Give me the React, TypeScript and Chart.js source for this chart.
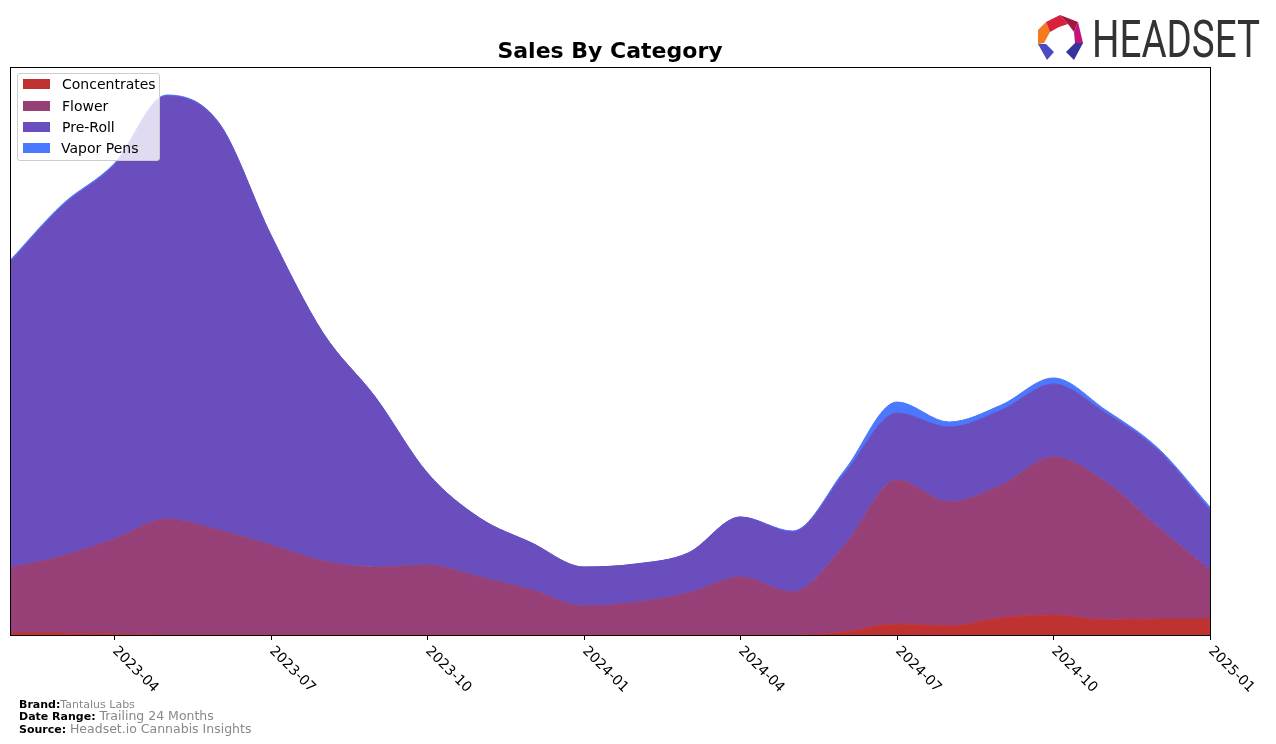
import React, { useEffect, useRef } from 'react';
import { Chart, registerables } from 'chart.js';

Chart.register(...registerables);

const months = [
  '2023-02', '2023-03', '2023-04', '2023-05', '2023-06', '2023-07',
  '2023-08', '2023-09', '2023-10', '2023-11', '2023-12', '2024-01',
  '2024-02', '2024-03', '2024-04', '2024-05', '2024-06', '2024-07',
  '2024-08', '2024-09', '2024-10', '2024-11', '2024-12', '2025-01',
];
const concentrates = [2, 2, 1, 0, 0, 0, 0, 0, 0, 0, 0, 0, 0, 0, 0, 0, 3, 11, 9, 17, 20, 15, 16, 16];
const flower = [65, 77, 95, 116, 105, 90, 74, 68, 70, 58, 45, 29, 33, 42, 58, 43, 87, 144, 124, 133, 158, 138, 92, 49];
const preRoll = [306, 350, 374, 423, 407, 310, 228, 170, 92, 59, 47, 39, 38, 40, 60, 60, 72, 67, 75, 75, 73, 69, 77, 60];
const vaporPens = [1.5, 1.5, 1.5, 1, 0.5, 0, 0, 0, 0, 0, 0, 0, 0, 0, 0, 1, 3, 11, 5, 5, 6, 3, 2, 3];
const tickMonths = ['2023-04', '2023-07', '2023-10', '2024-01', '2024-04', '2024-07', '2024-10', '2025-01'];
const seriesNames = ['Concentrates', 'Flower', 'Pre-Roll', 'Vapor Pens'];
const seriesColors = ['#c03232', '#964077', '#6a4ebd', '#4a78ff'];
const yMax = 568;

const framePlugin = {
  id: 'frame',
  afterDraw(chart: any) {
    const { ctx, chartArea: a, scales } = chart;
    const xs = scales.x;
    ctx.save();
    ctx.strokeStyle = '#000';
    ctx.lineWidth = 1;
    ctx.strokeRect(Math.round(a.left) + 0.5, Math.round(a.top) + 0.5, Math.round(a.right - a.left), Math.round(a.bottom - a.top));
    ctx.font = '14px "DejaVu Sans"';
    ctx.fillStyle = '#000';
    tickMonths.forEach((m) => {
      const idx = months.indexOf(m);
      const px = Math.round(xs.getPixelForValue(idx)) + 0.5;
      ctx.beginPath();
      ctx.moveTo(px, a.bottom);
      ctx.lineTo(px, a.bottom + 5);
      ctx.stroke();
      ctx.save();
      ctx.translate(px + 5, a.bottom + 9);
      ctx.rotate(Math.PI / 4);
      ctx.textAlign = 'left';
      ctx.textBaseline = 'top';
      ctx.fillText(m, 0, 0);
      ctx.restore();
    });
    ctx.restore();
  },
};

export default function App() {
  const ref = useRef<HTMLCanvasElement>(null);
  useEffect(() => {
    if (!ref.current) return;
    const series = [concentrates, flower, preRoll, vaporPens];
    const chart = new Chart(ref.current, {
      type: 'line',
      data: {
        labels: months,
        datasets: series.map((d, i) => ({
          label: seriesNames[i],
          data: d,
          backgroundColor: seriesColors[i],
          borderColor: seriesColors[i],
          borderWidth: 1,
          pointRadius: 0,
          fill: i === 0 ? 'origin' : '-1',
          cubicInterpolationMode: 'monotone' as const,
        })),
      },
      options: {
        responsive: false,
        animation: false,
        layout: { padding: { left: 10, right: 66, top: 67, bottom: 109 } },
        plugins: { legend: { display: false }, title: { display: false }, tooltip: { enabled: false } },
        scales: {
          x: { display: false, offset: false },
          y: { display: false, stacked: true, min: 0, max: yMax },
        },
      },
      plugins: [framePlugin],
    });
    return () => chart.destroy();
  }, []);

  const font = '"DejaVu Sans", sans-serif';
  const rowCenters = [84, 106, 127, 148];
  const footer = [
    { label: 'Brand:', value: 'Tantalus Labs', vs: 11, y: 703 },
    { label: 'Date Range: ', value: 'Trailing 24 Months', vs: 12.5, y: 715 },
    { label: 'Source: ', value: 'Headset.io Cannabis Insights', vs: 12.5, y: 728 },
  ];
  return (
    <div style={{ position: 'fixed', left: 0, top: 0, width: 1276, height: 744, background: '#fff', fontFamily: font }}>
      <canvas ref={ref} width={1276} height={744} style={{ position: 'absolute', left: 0, top: 0, width: 1276, height: 744 }} />
      <div style={{ position: 'absolute', left: 10, width: 1200, top: 37, textAlign: 'center', fontSize: 22, fontWeight: 'bold', color: '#000', lineHeight: '28px' }}>
        Sales By Category
      </div>
      <div style={{ position: 'absolute', left: 17, top: 73, width: 141, height: 86, background: 'rgba(255,255,255,0.8)', border: '1px solid #cccccc', borderRadius: 3 }}>
        {seriesNames.map((n, i) => (
          <div key={n} style={{ position: 'absolute', left: 0, top: rowCenters[i] - 74 - 10, height: 20, width: 141 }}>
            <div style={{ position: 'absolute', left: 5, top: 5, width: 27, height: 10, background: seriesColors[i] }} />
            <div style={{ position: 'absolute', left: i === 3 ? 43 : 44, top: 1, fontSize: 14, lineHeight: '18px', color: '#000', whiteSpace: 'nowrap' }}>{n}</div>
          </div>
        ))}
      </div>
      <svg style={{ position: 'absolute', left: 0, top: 0 }} width={1276} height={80}>
        <polygon points="1038,30 1046,22 1050,32 1044,43 1038,44" fill="#f47a20" />
        <polygon points="1046,22 1060,15 1068,24 1059,27 1050,32" fill="#d8213b" />
        <polygon points="1060,15 1078,22 1074,32 1068,24" fill="#a3163f" />
        <polygon points="1078,22 1083,43 1075,43 1074,32" fill="#c4127a" />
        <polygon points="1038,44 1046,44 1054,52 1047,60" fill="#4b4ac0" />
        <polygon points="1075,43 1083,43 1074,60 1066,52" fill="#36339a" />
        <text x={1092} y={57} fontSize={51} fill="#333333" textLength={168} lengthAdjust="spacingAndGlyphs" style={{ fontFamily: 'Roboto, sans-serif' }}>HEADSET</text>
      </svg>
      {footer.map((f) => (
        <div key={f.label} style={{ position: 'absolute', left: 19, top: f.y - 8, height: 16, lineHeight: '16px', whiteSpace: 'nowrap' }}>
          <span style={{ fontSize: 11, fontWeight: 'bold', color: '#000' }}>{f.label}</span>
          <span style={{ fontSize: f.vs, color: '#888' }}>{f.value}</span>
        </div>
      ))}
    </div>
  );
}
